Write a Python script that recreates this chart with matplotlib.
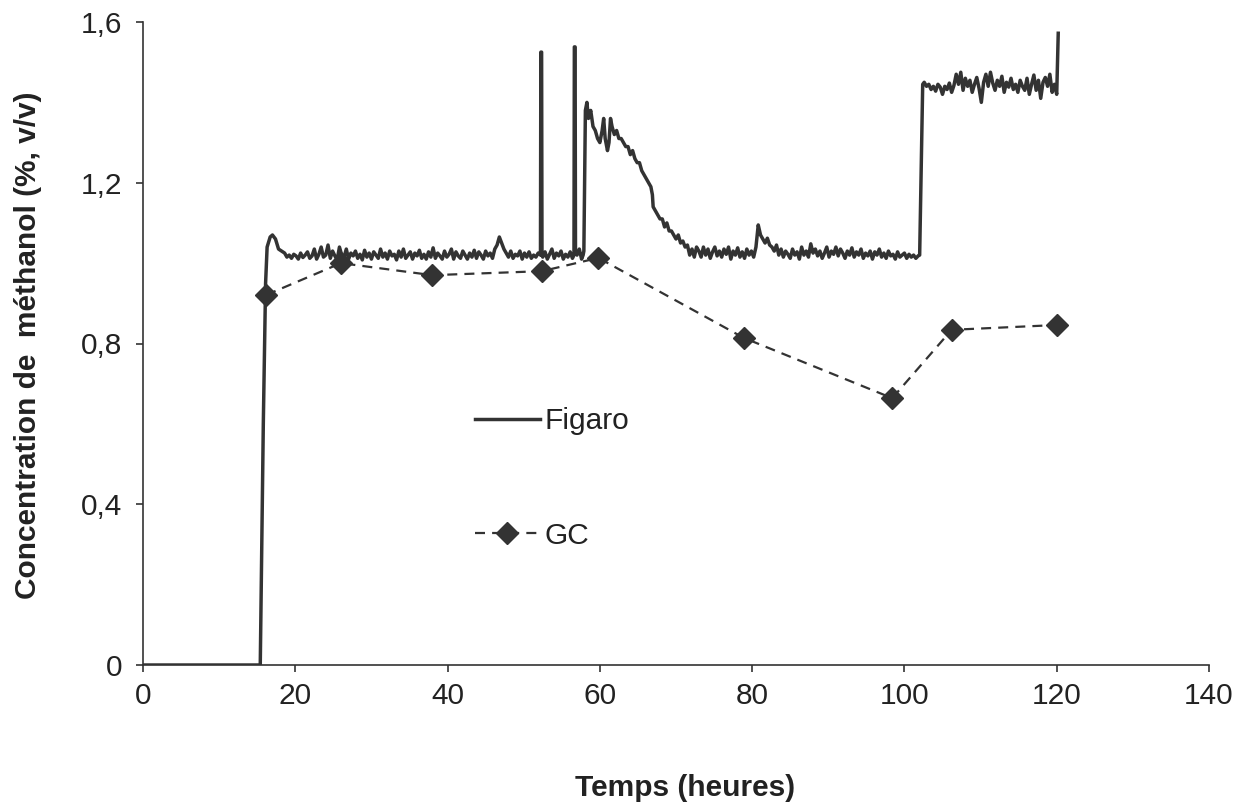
import numpy as np
import matplotlib
matplotlib.use("Agg")
import matplotlib.pyplot as plt
from matplotlib.ticker import FixedLocator, FixedFormatter

plt.rcParams['font.family'] = ['Liberation Sans', 'DejaVu Sans']

# ---------------- data ----------------
gc_t = [16.2, 26.0, 38.0, 52.4, 59.8, 78.9, 98.4, 106.2, 120.0]
gc_v = [0.921, 1.000, 0.970, 0.980, 1.013, 0.814, 0.664, 0.834, 0.846]

# Figaro sensor trace, read segment by segment
rise_t = [0.0, 15.4, 15.8, 16.1, 16.3, 16.7, 17.0, 17.4, 17.8, 18.2]
rise_v = [0.0, 0.0, 0.60, 0.95, 1.04, 1.065, 1.07, 1.06, 1.035, 1.03]

flat1_start, flat1_step = 18.6, 0.3
flat1_v = [
    1.025, 1.015, 1.020, 1.012, 1.022, 1.018, 1.010, 1.025, 1.014, 1.020,
    1.028, 1.012, 1.018, 1.035, 1.010, 1.022, 1.040, 1.015, 1.020, 1.045,
    1.012, 1.030, 1.018, 1.008, 1.040, 1.020, 1.015, 1.035, 1.010, 1.025,
    1.018, 1.030, 1.012, 1.022, 1.008, 1.032, 1.015, 1.025, 1.010, 1.028,
    1.020, 1.012, 1.035, 1.015, 1.025, 1.010, 1.030, 1.018, 1.022, 1.008,
    1.030, 1.015, 1.035, 1.012, 1.020, 1.028, 1.010, 1.025, 1.018, 1.032,
    1.012, 1.022, 1.010, 1.028, 1.015, 1.038, 1.012, 1.025, 1.018, 1.010,
    1.030, 1.015, 1.022, 1.035, 1.010, 1.028, 1.018, 1.012, 1.030, 1.020,
    1.010, 1.025, 1.015, 1.032, 1.012, 1.028, 1.020, 1.010, 1.030, 1.018,
    1.025, 1.012, 1.035, 1.045, 1.065, 1.050, 1.035, 1.025, 1.015, 1.030,
    1.012, 1.022, 1.018, 1.030, 1.010, 1.025, 1.015, 1.028, 1.012, 1.020,
    1.015, 1.025,
]

spike1_t = [52.2, 52.25, 52.35, 52.4]
spike1_v = [1.02, 1.525, 1.525, 1.02]

flat2_start, flat2_step = 52.5, 0.3
flat2_v = [1.015, 1.028, 1.010, 1.022, 1.035, 1.012, 1.025, 1.018, 1.030,
           1.010, 1.022, 1.015, 1.028, 1.012]

spike2_t = [56.6, 56.65, 56.75, 56.8]
spike2_v = [1.02, 1.538, 1.538, 1.03]

decay_t = [57.0, 57.3, 57.6, 57.8, 57.9, 58.1, 58.3, 58.5, 58.8, 59.1, 59.4,
           59.7, 60.0, 60.3, 60.5, 60.7, 61.0, 61.2, 61.4, 61.6, 61.9, 62.2,
           62.5, 62.8, 63.1, 63.4, 63.7, 64.0, 64.3, 64.6, 64.9, 65.2, 65.5,
           65.8, 66.1, 66.4, 66.7, 66.9, 67.0, 67.3, 67.6, 67.9, 68.2, 68.5,
           68.8, 69.1, 69.4, 69.7, 70.0, 70.3, 70.6, 70.9, 71.2, 71.5, 71.8,
           72.1, 72.4, 72.7]
decay_v = [1.02, 1.035, 1.01, 1.02, 1.03, 1.38, 1.40, 1.36, 1.38, 1.34, 1.33,
           1.31, 1.30, 1.33, 1.36, 1.31, 1.28, 1.30, 1.36, 1.34, 1.32, 1.33,
           1.31, 1.31, 1.30, 1.29, 1.29, 1.27, 1.28, 1.26, 1.25, 1.25, 1.23,
           1.22, 1.21, 1.20, 1.19, 1.17, 1.14, 1.13, 1.12, 1.11, 1.11, 1.09,
           1.10, 1.08, 1.08, 1.07, 1.06, 1.07, 1.05, 1.055, 1.04, 1.045, 1.02,
           1.035, 1.015, 1.04]

flat3_start, flat3_step = 73.0, 0.3
flat3_v = [
    1.030, 1.015, 1.040, 1.020, 1.035, 1.012, 1.028, 1.040, 1.018, 1.030,
    1.015, 1.035, 1.022, 1.040, 1.010, 1.030, 1.020, 1.038, 1.015, 1.028,
    1.012, 1.035, 1.020, 1.030, 1.015, 1.040, 1.095, 1.070, 1.060, 1.050,
    1.062, 1.045, 1.040, 1.030, 1.045, 1.020, 1.035, 1.015, 1.030, 1.022,
    1.012, 1.035, 1.020, 1.028, 1.010, 1.040, 1.020, 1.030, 1.015, 1.048,
    1.025, 1.035, 1.018, 1.030, 1.012, 1.025, 1.040, 1.015, 1.030, 1.022,
    1.040, 1.018, 1.035, 1.025, 1.012, 1.030, 1.020, 1.038, 1.015, 1.028,
    1.020, 1.035, 1.012, 1.025, 1.018, 1.030, 1.010, 1.028, 1.020, 1.035,
    1.015, 1.025, 1.012, 1.030, 1.018, 1.022, 1.010, 1.028, 1.015, 1.020,
    1.025, 1.012, 1.022, 1.015, 1.020, 1.012, 1.018,
]

step_t = [102.0, 102.4]
step_v = [1.02, 1.445]

flat4_start, flat4_step = 102.6, 0.3
flat4_v = [
    1.450, 1.440, 1.445, 1.432, 1.440, 1.428, 1.445, 1.438, 1.420, 1.440,
    1.432, 1.448, 1.425, 1.442, 1.470, 1.445, 1.475, 1.430, 1.460, 1.440,
    1.455, 1.425, 1.445, 1.462, 1.435, 1.400, 1.450, 1.470, 1.440, 1.475,
    1.448, 1.430, 1.455, 1.440, 1.465, 1.425, 1.450, 1.438, 1.460, 1.432,
    1.445, 1.425, 1.455, 1.440, 1.430, 1.460, 1.420, 1.445, 1.468, 1.430,
    1.455, 1.410, 1.450, 1.462, 1.440, 1.470, 1.425, 1.445, 1.420,
]

end_t = [120.2]
end_v = [1.572]

x_ticks = [0, 20, 40, 60, 80, 100, 120, 140]
y_ticks = [0, 0.4, 0.8, 1.2, 1.6]
y_tick_labels = ["0", "0,4", "0,8", "1,2", "1,6"]


def grid(start, step, values):
    return [start + step * i for i in range(len(values))]


fig_t = (rise_t + grid(flat1_start, flat1_step, flat1_v) + spike1_t
         + grid(flat2_start, flat2_step, flat2_v) + spike2_t + decay_t
         + grid(flat3_start, flat3_step, flat3_v) + step_t
         + grid(flat4_start, flat4_step, flat4_v) + end_t)
fig_v = (rise_v + flat1_v + spike1_v + flat2_v + spike2_v + decay_v
         + flat3_v + step_v + flat4_v + end_v)

# ---------------- plot ----------------
ink = "#333333"
txt = "#222222"
FS = 21.5
W, H = 1249, 809
fig = plt.figure(figsize=(W / 100, H / 100), dpi=100)
ax = fig.add_axes([143 / W, 1 - 665 / H, (1209 - 143) / W, (665 - 22) / H])

ax.plot(fig_t, fig_v, color=ink, lw=2.5, label="Figaro")
ax.plot(gc_t, gc_v, color=ink, lw=1.6, ls=(0, (4.5, 3.2)), marker='D',
        markersize=11, markerfacecolor=ink, markeredgecolor=ink, label="GC")

ax.set_xlim(0, 140)
ax.set_ylim(0, 1.6)
ax.xaxis.set_major_locator(FixedLocator(x_ticks))
ax.yaxis.set_major_locator(FixedLocator(y_ticks))
ax.yaxis.set_major_formatter(FixedFormatter(y_tick_labels))

for s in ['top', 'right']:
    ax.spines[s].set_visible(False)
for s in ['left', 'bottom']:
    ax.spines[s].set_color(ink)
    ax.spines[s].set_linewidth(1.2)
ax.tick_params(direction='out', length=5, width=1.2, color=ink,
               labelsize=FS, labelcolor=txt)
ax.tick_params(axis='y', pad=10)
ax.tick_params(axis='x', pad=7)

ax.set_xlabel("Temps (heures)", fontsize=FS, fontweight='bold', color=txt)
ax.set_ylabel("Concentration de  méthanol (%, v/v)", fontsize=FS,
              fontweight='bold', color=txt)
ax.xaxis.set_label_coords(685 / W, 1 - 774 / H, transform=fig.transFigure)
ax.yaxis.set_label_coords(42 / W, 1 - 345 / H, transform=fig.transFigure)

leg = ax.legend(loc='upper left', bbox_to_anchor=(475 / W, 1 - 407 / H),
                bbox_transform=fig.transFigure, frameon=False, fontsize=FS,
                handlelength=2.17, handletextpad=0.17, labelspacing=2.9,
                borderpad=0, borderaxespad=0, numpoints=1)
for t in leg.get_texts():
    t.set_color(txt)

fig.savefig("out.png", dpi=100)
